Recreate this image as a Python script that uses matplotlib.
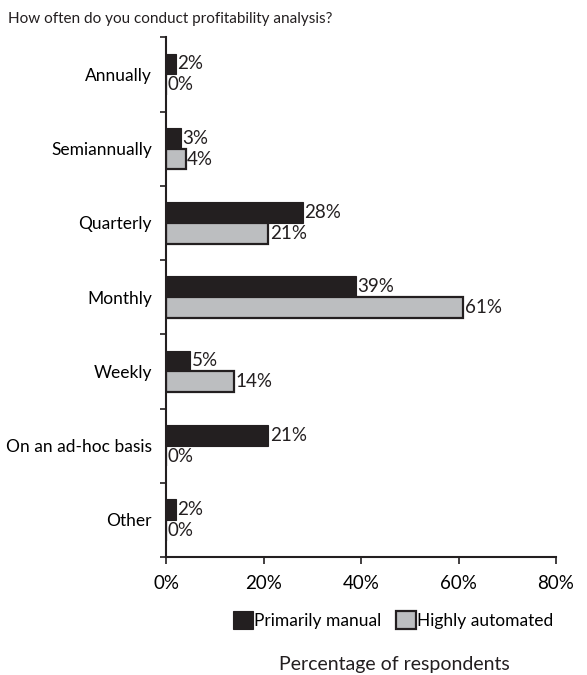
import matplotlib.pyplot as plt
import numpy as np

categories = ['Annually', 'Semiannually', 'Quarterly', 'Monthly', 'Weekly',
              'On an ad-hoc basis', 'Other']
manual = [2, 3, 28, 39, 5, 21, 2]
automated = [0, 4, 21, 61, 14, 0, 0]
series_names = ['Primarily manual', 'Highly automated']
xticks = [0, 20, 40, 60, 80]

plt.rcParams['font.family'] = ['Lato', 'DejaVu Sans']
plt.rcParams['font.size'] = 12.5

c_dark = '#231f20'
c_light = '#bcbec0'

fig = plt.figure(figsize=(5.87, 6.75), dpi=100)
ax = fig.add_axes([0.2828, 0.1748, 0.6644, 0.770])

y = np.arange(len(categories))
h = 0.28

b1 = ax.barh(y - h / 2, manual, height=h, color=c_dark, edgecolor=c_dark,
             lw=0.8, label=series_names[0])
b2 = ax.barh(y + h / 2, automated, height=h, color=c_light, edgecolor=c_dark,
             lw=1.6, label=series_names[1])

for bars, vals in ((b1, manual), (b2, automated)):
    for bar, v in zip(bars, vals):
        ax.text(v + 0.3, bar.get_y() + bar.get_height() / 2, f'{v}%',
                ha='left', va='center', fontsize=13.5, color=c_dark)

ax.set_xlim(0, 80)
ax.set_ylim(len(categories) - 0.5, -0.5)
ax.set_xticks(xticks)
ax.set_xticklabels([f'{t}%' for t in xticks])
ax.set_yticks(y)
ax.set_yticklabels(categories)
ax.set_yticks(np.arange(-0.5, len(categories), 1), minor=True)
ax.tick_params(axis='y', which='major', length=0, pad=10, labelsize=12.5)
ax.tick_params(axis='y', which='minor', length=4, width=1.2, color=c_dark)
ax.tick_params(axis='x', which='major', length=5, width=1.2, color=c_dark,
               pad=8, labelsize=13.5)

for s in ('top', 'right'):
    ax.spines[s].set_visible(False)
for s in ('left', 'bottom'):
    ax.spines[s].set_linewidth(1.5)
    ax.spines[s].set_color(c_dark)

fig.text(0.014, 0.972, 'How often do you conduct profitability analysis?',
         ha='left', va='center', fontsize=11, color=c_dark)

leg = fig.legend(handles=[b1, b2], loc='center', bbox_to_anchor=(0.670, 0.0815),
                 ncol=2, frameon=False, fontsize=12.5, handlelength=1.15,
                 handleheight=1.2, handletextpad=0.06, columnspacing=0.86,
                 borderpad=0)

fig.text(0.671, 0.016, 'Percentage of respondents', ha='center',
         va='center', fontsize=14, color=c_dark)

plt.savefig('out.png', dpi=100)
